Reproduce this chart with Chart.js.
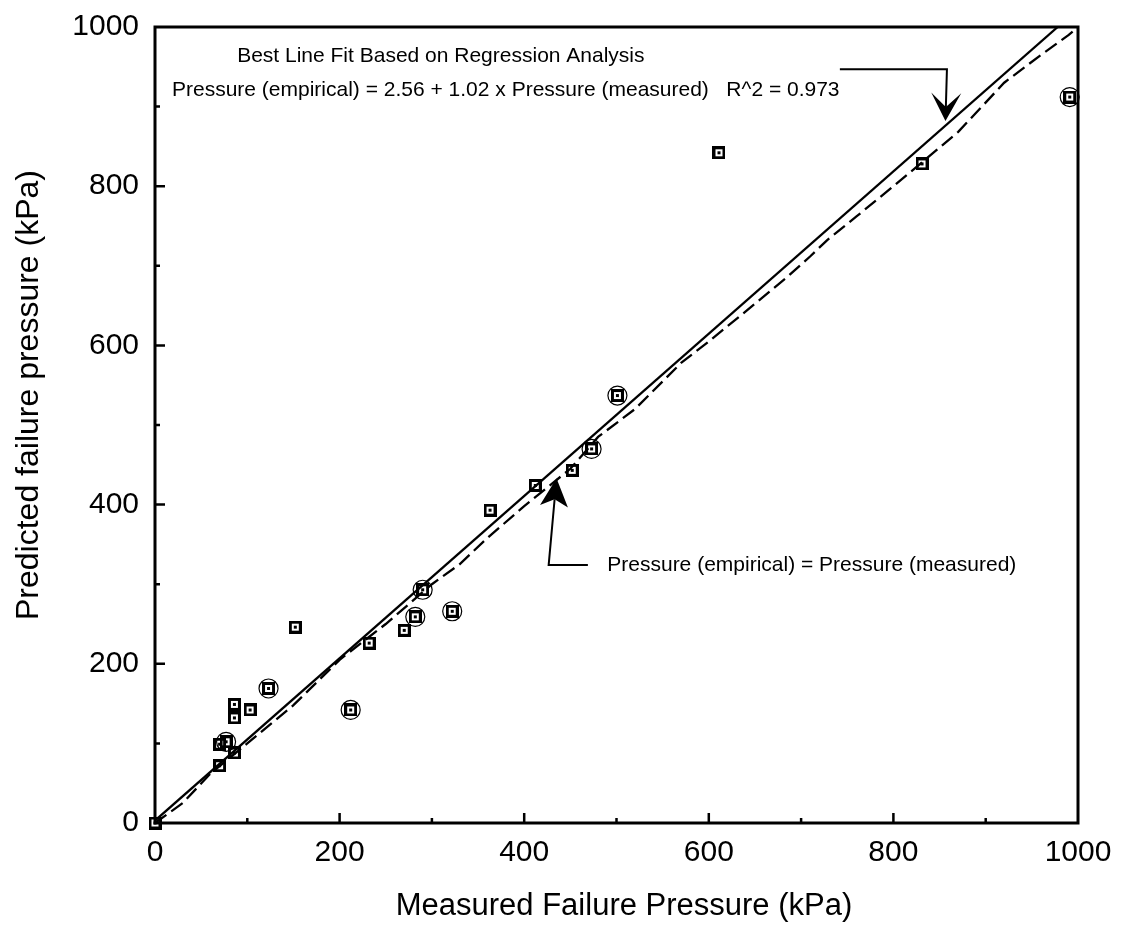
<!DOCTYPE html>
<html><head><meta charset="utf-8">
<script src="https://cdn.jsdelivr.net/npm/chart.js@4/dist/chart.umd.min.js"></script>
<style>html,body{margin:0;padding:0;background:#fff;}#wrap{width:1125px;height:939px;}</style>
</head><body><div id="wrap"><canvas id="c" width="1125" height="939"></canvas></div>
<script>
// ---- data ----
const measured  = [0, 70, 70, 77, 86, 86, 86, 103, 123, 152, 212, 232, 270, 282, 290, 322, 363, 412, 452, 473, 501, 611, 831, 991];
const predicted = [0, 72, 99, 102, 88, 132, 149, 142, 169, 246, 142, 226, 242, 259, 293, 266, 393, 424, 443, 470, 537, 842, 828, 912];
const circledMeasured  = [77, 123, 212, 282, 290, 322, 473, 501, 991];
const circledPredicted = [102, 169, 142, 259, 293, 266, 470, 537, 912];
const fitX = [0, 978];
const fitY = [3, 1000];
const equalX = [0, 30, 60, 100, 150, 200, 250, 300, 330, 360, 400, 450, 480, 520, 570, 600, 635, 685, 710, 728, 760, 800, 830, 870, 920, 960, 990, 1000];
const equalY = [0, 25, 62, 100, 148, 205, 250, 300, 325, 358, 398, 445, 485, 520, 578, 605, 638, 686, 712, 732, 762, 800, 829, 868, 930, 965, 990, 1000];
const xTickValues = [0, 200, 400, 600, 800, 1000];
const yTickValues = [0, 200, 400, 600, 800, 1000];
const xTitle = 'Measured Failure Pressure (kPa)';
const yTitle = 'Predicted failure pressure (kPa)';
const fitTitle = 'Best Line Fit Based on Regression Analysis';
const fitEquation = 'Pressure (empirical) = 2.56 + 1.02 x Pressure (measured)   R^2 = 0.973';
const equalityLabel = 'Pressure (empirical) = Pressure (measured)';

const FONT = "'Liberation Sans', Arial, Helvetica, sans-serif";

// square marker with centre dot
const marker = document.createElement('canvas');
marker.width = 13; marker.height = 13;
(function(){
  const g = marker.getContext('2d');
  g.fillStyle = '#000'; g.fillRect(0,0,13,13);
  g.clearRect(3,3,7,7);
  g.fillRect(5,5,3,3);
})();

const toPts = (xs, ys) => xs.map((x, i) => ({x, y: ys[i]}));

function arrow(ctx, pts, tip, headLen, halfW, notch) {
  const last = pts[pts.length - 1];
  const dx = tip.x - last.x, dy = tip.y - last.y;
  const L = Math.hypot(dx, dy); const ux = dx / L, uy = dy / L;
  const nx = -uy, ny = ux;
  const notchP = {x: tip.x - ux * notch, y: tip.y - uy * notch};
  ctx.beginPath();
  ctx.moveTo(pts[0].x, pts[0].y);
  for (let i = 1; i < pts.length; i++) ctx.lineTo(pts[i].x, pts[i].y);
  ctx.lineTo(notchP.x, notchP.y);
  ctx.stroke();
  const bx = tip.x - ux * headLen, by = tip.y - uy * headLen;
  ctx.beginPath();
  ctx.moveTo(tip.x, tip.y);
  ctx.lineTo(bx + nx * halfW, by + ny * halfW);
  ctx.lineTo(notchP.x, notchP.y);
  ctx.lineTo(bx - nx * halfW, by - ny * halfW);
  ctx.closePath();
  ctx.fill();
}

const decor = {
  id: 'decor',
  afterDraw(chart) {
    const {ctx, chartArea: a, scales: {x, y}} = chart;
    ctx.save();
    ctx.strokeStyle = '#000'; ctx.fillStyle = '#000';
    // frame
    ctx.lineWidth = 3;
    ctx.strokeRect(a.left, a.top, a.right - a.left, a.bottom - a.top);
    // inward ticks
    ctx.lineWidth = 2.5;
    ctx.beginPath();
    for (let v = 100; v < 1000; v += 100) {
      const len = v % 200 === 0 ? 10 : 5;
      const px = x.getPixelForValue(v);
      ctx.moveTo(px, a.bottom); ctx.lineTo(px, a.bottom - len);
      const py = y.getPixelForValue(v);
      ctx.moveTo(a.left, py); ctx.lineTo(a.left + len, py);
    }
    ctx.stroke();
    // axis titles
    ctx.font = '31px ' + FONT;
    ctx.textAlign = 'center'; ctx.textBaseline = 'middle';
    ctx.fillText(xTitle, 624, 906);
    ctx.save();
    ctx.translate(29, 395);
    ctx.rotate(-Math.PI / 2);
    ctx.font = '32px ' + FONT;
    ctx.fillText(yTitle, 0, 0);
    ctx.restore();
    // annotation texts
    ctx.font = '21px ' + FONT;
    ctx.textAlign = 'left'; ctx.textBaseline = 'middle';
    ctx.fillText(fitTitle, x.getPixelForValue(89), y.getPixelForValue(963));
    ctx.fillText(fitEquation, x.getPixelForValue(18.4), y.getPixelForValue(921));
    ctx.fillText(equalityLabel, x.getPixelForValue(490), y.getPixelForValue(324));
    // arrows
    ctx.lineWidth = 2;
    const P = (vx, vy) => ({x: x.getPixelForValue(vx), y: y.getPixelForValue(vy)});
    arrow(ctx, [P(469, 324), P(426.5, 324)], P(435, 433), 28, 14, 21);
    arrow(ctx, [P(742, 947), P(858, 947)], P(856.4, 882), 28, 15, 14);
    ctx.restore();
  }
};

new Chart(document.getElementById('c'), {
  type: 'scatter',
  data: {
    datasets: [
      { label: 'Regression fit', data: toPts(fitX, fitY), showLine: true, borderColor: '#000', borderWidth: 2.3, pointRadius: 0, fill: false },
      { label: 'Equality', data: toPts(equalX, equalY), showLine: true, borderColor: '#000', borderWidth: 2.3, borderDash: [14, 6], pointRadius: 0, fill: false, tension: 0 },
      { label: 'Circled', data: toPts(circledMeasured, circledPredicted), pointStyle: 'circle', pointRadius: 9.5, borderWidth: 1.2, borderColor: '#000', backgroundColor: 'rgba(0,0,0,0)', clip: false },
      { label: 'Data', data: toPts(measured, predicted), pointStyle: marker, pointRadius: 7, clip: false }
    ]
  },
  options: {
    responsive: false, animation: false, devicePixelRatio: 1,
    layout: { padding: { left: 0, right: 47, top: 27, bottom: 0 } },
    plugins: { legend: { display: false }, tooltip: { enabled: false } },
    scales: {
      x: {
        type: 'linear', min: 0, max: 1000,
        afterBuildTicks: s => { s.ticks = xTickValues.map(v => ({value: v})); },
        afterFit: s => { s.height = 939 - 823; s.paddingLeft = 0; s.paddingRight = 0; s.paddingTop = 0; s.paddingBottom = 0; },
        grid: { display: false, drawTicks: false }, border: { display: false },
        ticks: { color: '#000', font: { family: FONT, size: 30 }, padding: 12, maxRotation: 0, callback: v => String(v) },
        title: { display: false, text: xTitle }
      },
      y: {
        type: 'linear', min: 0, max: 1000,
        afterBuildTicks: s => { s.ticks = yTickValues.map(v => ({value: v})); },
        afterFit: s => { s.width = 155; s.paddingTop = 0; s.paddingBottom = 0; s.paddingLeft = 0; s.paddingRight = 0; },
        grid: { display: false, drawTicks: false }, border: { display: false },
        ticks: { color: '#000', font: { family: FONT, size: 30 }, padding: 16, callback: v => String(v) },
        title: { display: false, text: yTitle }
      }
    }
  },
  plugins: [decor]
});
</script></body></html>
